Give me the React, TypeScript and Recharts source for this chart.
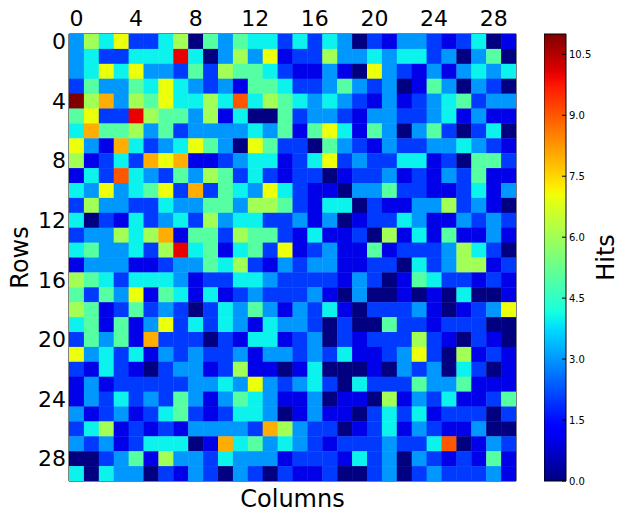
import React from 'react';
import { ScatterChart, Scatter, XAxis, YAxis, BarChart, Bar } from 'recharts';

// hit counts, rows top to bottom, 30 columns each
const hits: number[][] = [
  [3, 6, 4, 7, 2, 2, 4, 6, 0, 5, 3, 5, 4, 4, 2, 4, 2, 4, 3, 0, 2, 1, 3, 3, 2, 1, 2, 4, 0, 1],
  [3, 4, 2, 2, 4, 4, 4, 10, 4, 0, 3, 6, 3, 7, 1, 2, 2, 6, 3, 3, 4, 3, 4, 4, 2, 3, 0, 3, 5, 0],
  [3, 4, 7, 4, 7, 3, 3, 2, 5, 2, 6, 5, 5, 4, 2, 1, 1, 3, 1, 0, 7, 3, 2, 1, 3, 1, 3, 4, 3, 4],
  [2, 5, 3, 3, 5, 4, 7, 4, 3, 2, 3, 1, 5, 5, 4, 2, 2, 3, 5, 3, 2, 3, 0, 1, 5, 3, 0, 3, 2, 0],
  [11, 6, 8, 3, 6, 5, 7, 4, 4, 6, 4, 9, 4, 6, 5, 4, 3, 4, 3, 2, 1, 3, 1, 2, 3, 4, 5, 2, 3, 3],
  [5, 7, 2, 2, 10, 6, 5, 5, 3, 6, 1, 4, 0, 0, 5, 2, 3, 3, 2, 1, 3, 3, 2, 2, 3, 4, 1, 3, 1, 1],
  [4, 8, 5, 5, 6, 3, 5, 2, 3, 3, 3, 3, 4, 3, 5, 1, 5, 7, 4, 1, 5, 3, 0, 3, 5, 2, 0, 2, 4, 0],
  [7, 3, 1, 8, 4, 2, 3, 4, 7, 5, 3, 0, 7, 5, 2, 2, 0, 5, 3, 2, 1, 3, 2, 2, 3, 3, 4, 3, 2, 1],
  [6, 1, 2, 4, 2, 8, 7, 8, 1, 1, 2, 3, 4, 4, 1, 2, 4, 7, 2, 3, 2, 2, 4, 4, 1, 2, 0, 5, 5, 2],
  [1, 4, 2, 9, 4, 3, 2, 5, 3, 6, 5, 2, 4, 2, 1, 2, 2, 0, 1, 2, 2, 3, 1, 2, 1, 3, 2, 5, 1, 1],
  [4, 3, 7, 3, 4, 5, 7, 2, 8, 2, 5, 4, 3, 7, 4, 2, 1, 1, 0, 3, 3, 5, 2, 2, 1, 1, 2, 4, 1, 3],
  [2, 6, 3, 3, 2, 2, 4, 3, 3, 5, 5, 3, 6, 6, 5, 2, 1, 4, 4, 0, 2, 1, 1, 3, 3, 6, 2, 3, 1, 0],
  [4, 0, 2, 1, 4, 2, 3, 4, 2, 6, 3, 4, 4, 2, 2, 3, 1, 3, 0, 1, 2, 2, 4, 3, 1, 1, 3, 2, 3, 2],
  [2, 3, 3, 6, 4, 6, 8, 1, 5, 5, 2, 6, 5, 5, 2, 1, 4, 1, 1, 2, 0, 6, 1, 4, 1, 5, 1, 1, 3, 1],
  [4, 5, 3, 3, 4, 2, 6, 10, 4, 5, 1, 4, 5, 2, 7, 1, 2, 3, 1, 1, 5, 1, 2, 2, 2, 3, 6, 4, 2, 0],
  [1, 3, 3, 3, 1, 1, 2, 3, 3, 5, 4, 6, 2, 1, 3, 2, 3, 3, 1, 1, 2, 2, 0, 4, 2, 3, 6, 6, 1, 2],
  [6, 5, 4, 2, 4, 4, 4, 3, 1, 2, 2, 4, 4, 3, 2, 2, 2, 2, 1, 3, 2, 0, 1, 5, 4, 2, 2, 1, 2, 1],
  [5, 2, 5, 3, 7, 1, 5, 4, 1, 4, 1, 2, 3, 2, 2, 2, 3, 1, 0, 3, 0, 0, 1, 0, 1, 0, 4, 0, 0, 1],
  [6, 5, 1, 2, 5, 2, 3, 2, 0, 2, 4, 3, 5, 3, 1, 3, 2, 4, 1, 0, 2, 2, 2, 3, 1, 0, 1, 2, 3, 7],
  [4, 5, 1, 5, 1, 3, 7, 2, 4, 2, 4, 3, 1, 4, 3, 3, 2, 0, 2, 0, 0, 5, 2, 2, 1, 2, 2, 2, 0, 0],
  [2, 5, 3, 5, 1, 8, 2, 2, 2, 0, 2, 1, 4, 4, 1, 2, 3, 0, 2, 1, 2, 2, 2, 6, 2, 1, 0, 2, 1, 0],
  [7, 3, 4, 2, 4, 1, 3, 2, 3, 2, 2, 3, 1, 3, 3, 2, 3, 2, 4, 1, 1, 2, 3, 7, 2, 0, 6, 1, 2, 1],
  [2, 1, 4, 2, 1, 0, 2, 3, 3, 1, 2, 6, 1, 1, 0, 1, 4, 0, 0, 0, 1, 0, 3, 2, 3, 0, 4, 2, 0, 1],
  [1, 3, 1, 2, 2, 2, 2, 2, 3, 3, 4, 3, 7, 3, 2, 3, 4, 2, 0, 4, 2, 2, 2, 5, 3, 3, 5, 1, 1, 1],
  [1, 3, 2, 4, 2, 3, 2, 5, 3, 1, 3, 5, 4, 3, 1, 1, 3, 0, 1, 1, 0, 6, 1, 3, 2, 4, 1, 1, 2, 5],
  [3, 1, 2, 3, 1, 2, 4, 5, 2, 1, 2, 4, 4, 3, 0, 1, 3, 1, 1, 0, 2, 4, 2, 4, 1, 2, 2, 2, 0, 2],
  [2, 4, 6, 1, 2, 1, 2, 1, 3, 3, 3, 3, 2, 8, 6, 3, 2, 2, 0, 1, 2, 4, 1, 3, 2, 1, 1, 3, 0, 0],
  [3, 2, 3, 1, 2, 4, 4, 4, 0, 1, 8, 4, 5, 3, 4, 3, 2, 1, 2, 2, 2, 3, 2, 2, 4, 9, 0, 1, 3, 2],
  [0, 0, 2, 3, 5, 1, 6, 3, 3, 2, 4, 3, 3, 3, 1, 2, 2, 2, 1, 4, 2, 3, 0, 3, 2, 1, 2, 1, 5, 1],
  [4, 0, 4, 3, 3, 0, 2, 1, 3, 2, 0, 3, 2, 0, 2, 1, 1, 2, 0, 0, 2, 3, 0, 2, 3, 2, 2, 2, 3, 1],
];

const axisTicks = [0, 4, 8, 12, 16, 20, 24, 28];
const colorbarTicks = [0, 1.5, 3, 4.5, 6, 7.5, 9, 10.5];
const MAX_HITS = 11;

// matplotlib "jet" segment data
const JET_R: [number, number][] = [[0, 0], [0.35, 0], [0.66, 1], [0.89, 1], [1, 0.5]];
const JET_G: [number, number][] = [[0, 0], [0.125, 0], [0.375, 1], [0.64, 1], [0.91, 0], [1, 0]];
const JET_B: [number, number][] = [[0, 0.5], [0.11, 1], [0.34, 1], [0.65, 0], [1, 0]];

const channel = (pts: [number, number][], t: number) => {
  for (let i = 1; i < pts.length; i++) {
    if (t <= pts[i][0]) {
      const [x0, y0] = pts[i - 1];
      const [x1, y1] = pts[i];
      return y0 + ((t - x0) / (x1 - x0)) * (y1 - y0);
    }
  }
  return pts[pts.length - 1][1];
};

const jet = (t: number) => {
  const c = Math.max(0, Math.min(1, t));
  const r = Math.round(channel(JET_R, c) * 255);
  const g = Math.round(channel(JET_G, c) * 255);
  const b = Math.round(channel(JET_B, c) * 255);
  return `rgb(${r},${g},${b})`;
};

const cells = hits.flatMap((row, r) => row.map((v, c) => ({ col: c, row: r, v })));

const WIDTH = 626;
const HEIGHT = 517;
const PLOT_LEFT = 69;
const PLOT_TOP = 34;
const PLOT_RIGHT = 516;
const PLOT_BOTTOM = 481;
const CELL_W = (PLOT_RIGHT - PLOT_LEFT) / hits[0].length;
const CELL_H = (PLOT_BOTTOM - PLOT_TOP) / hits.length;

const HeatCell = (props: any) => {
  const { cx, cy, payload } = props;
  if (cx == null || cy == null) return null;
  return (
    <rect
      x={cx - CELL_W / 2}
      y={cy - CELL_H / 2}
      width={CELL_W + 0.4}
      height={CELL_H + 0.4}
      fill={jet(payload.v / MAX_HITS)}
    />
  );
};

const font = '"DejaVu Sans", sans-serif';
const gradStops = Array.from({ length: 51 }, (_, i) => i / 50);

export default function App() {
  const domain: [number, number] = [-0.5, 29.5];
  return (
    <div style={{ position: 'absolute', left: 0, top: 0, width: WIDTH, height: HEIGHT, fontFamily: font, background: '#fff' }}>
      <ScatterChart
        width={WIDTH}
        height={HEIGHT}
        margin={{ top: PLOT_TOP - 30, bottom: HEIGHT - PLOT_BOTTOM - 30, left: PLOT_LEFT - 60, right: WIDTH - PLOT_RIGHT - 20 }}
      >
        <XAxis
          xAxisId="top"
          orientation="top"
          type="number"
          dataKey="col"
          domain={domain}
          ticks={axisTicks}
          interval={0}
          height={30}
          allowDataOverflow
          stroke="#000"
          tickSize={-5}
          tickMargin={13}
          tick={{ fill: '#000', fontSize: 22 }}
        />
        <XAxis
          xAxisId="bottom"
          orientation="bottom"
          type="number"
          dataKey="col"
          domain={domain}
          ticks={axisTicks}
          interval={0}
          height={30}
          allowDataOverflow
          stroke="#000"
          tickSize={-5}
          tick={false}
          label={{ value: 'Columns', position: 'insideBottom', offset: 4, fill: '#000', fontSize: 24 }}
        />
        <YAxis
          yAxisId="left"
          orientation="left"
          type="number"
          dataKey="row"
          domain={domain}
          reversed
          ticks={axisTicks}
          interval={0}
          width={60}
          allowDataOverflow
          stroke="#000"
          tickSize={-5}
          tickMargin={8}
          tick={{ fill: '#000', fontSize: 22 }}
          label={{ value: 'Rows', angle: -90, position: 'insideLeft', offset: 10, fill: '#000', fontSize: 24, style: { textAnchor: 'middle' } }}
        />
        <YAxis
          yAxisId="right"
          orientation="right"
          type="number"
          dataKey="row"
          domain={domain}
          reversed
          ticks={axisTicks}
          interval={0}
          width={20}
          allowDataOverflow
          stroke="#000"
          tickSize={-5}
          tick={false}
        />
        <Scatter
          data={cells}
          xAxisId="top"
          yAxisId="left"
          shape={HeatCell}
          isAnimationActive={false}
        />
        <Scatter
          data={cells}
          xAxisId="bottom"
          yAxisId="right"
          shape={() => null}
          isAnimationActive={false}
        />
      </ScatterChart>

      <div style={{ position: 'absolute', left: 544, top: 0 }}>
        <BarChart
          width={82}
          height={HEIGHT}
          data={[{ name: 'Hits', v: MAX_HITS }]}
          margin={{ top: PLOT_TOP, bottom: HEIGHT - PLOT_BOTTOM, left: 0, right: 0 }}
          barCategoryGap={0}
        >
          <defs>
            <linearGradient id="jetGradient" x1="0" y1="1" x2="0" y2="0">
              {gradStops.map((t) => (
                <stop key={t} offset={t} stopColor={jet(t)} />
              ))}
            </linearGradient>
          </defs>
          <XAxis dataKey="name" hide />
          <YAxis
            orientation="right"
            type="number"
            domain={[0, MAX_HITS]}
            ticks={colorbarTicks}
            interval={0}
            width={60}
            axisLine={false}
            tickSize={-4}
            tickMargin={7}
            tickLine={{ stroke: '#000' }}
            tickFormatter={(v: number) => v.toFixed(1)}
            tick={{ fill: '#000', fontSize: 10 }}
            label={{ value: 'Hits', angle: -90, position: 'insideLeft', offset: 39, fill: '#000', fontSize: 24, style: { textAnchor: 'middle' } }}
          />
          <Bar dataKey="v" fill="url(#jetGradient)" stroke="#000" strokeWidth={1} isAnimationActive={false} />
        </BarChart>
      </div>
    </div>
  );
}
